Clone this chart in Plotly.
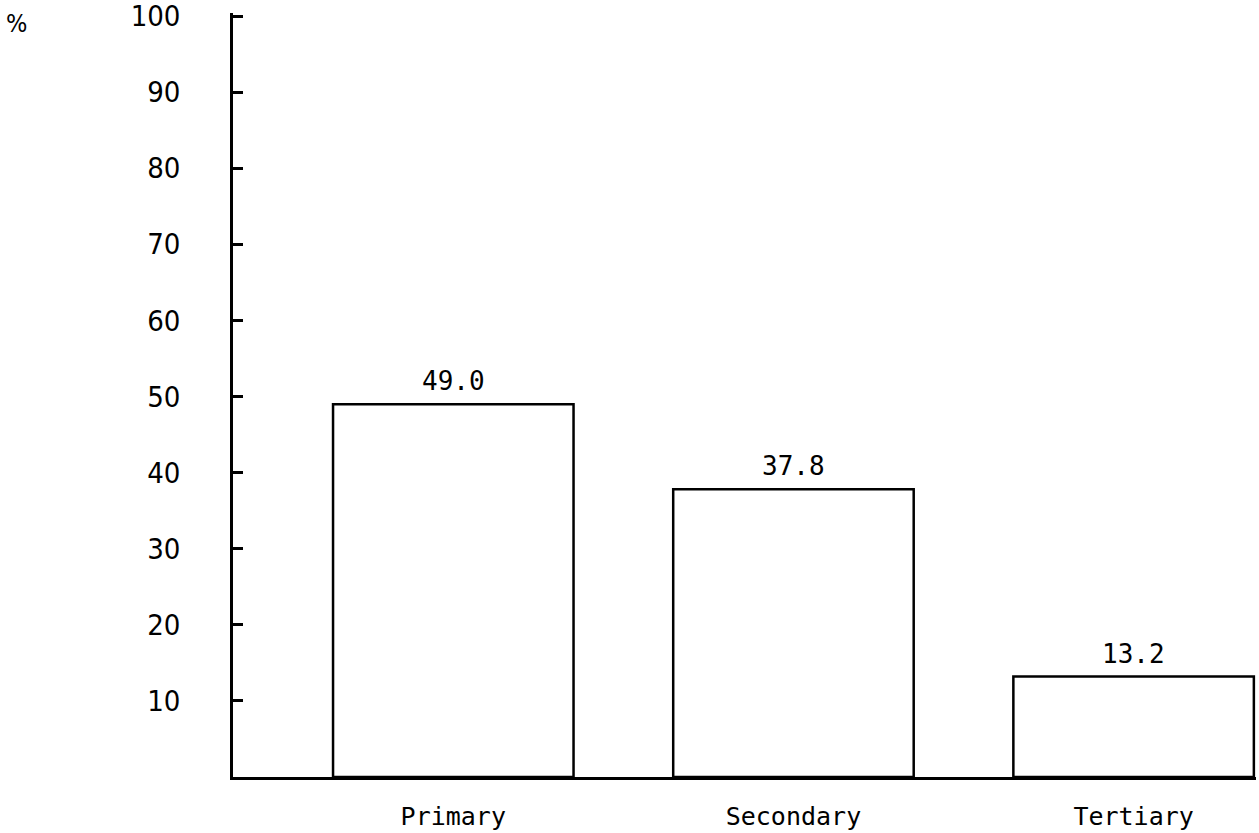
import plotly.graph_objects as go

categories = ["Primary", "Secondary", "Tertiary"]
values = [49.0, 37.8, 13.2]
value_labels = ["49.0", "37.8", "13.2"]
y_ticks = [10, 20, 30, 40, 50, 60, 70, 80, 90, 100]

MONO = "DejaVu Sans Mono, Liberation Mono, monospace"
NARROW = "Liberation Sans Narrow, Arial Narrow, DejaVu Sans Condensed, sans-serif"

fig = go.Figure()
fig.add_trace(go.Bar(
    x=categories, y=values, width=0.707,
    marker=dict(color="white", line=dict(color="black", width=2.5)),
    showlegend=False, hoverinfo="skip",
))

for c, v, t in zip(categories, values, value_labels):
    fig.add_annotation(x=c, y=v, text=t, showarrow=False, xref="x", yref="y",
                       yanchor="bottom", yshift=6,
                       font=dict(family=MONO, size=26, color="black"))

fig.add_annotation(x=-0.224, y=1.008, xref="paper", yref="paper", text="%",
                   showarrow=False, xanchor="left", yanchor="top",
                   font=dict(family=NARROW, size=25, color="black"))

fig.update_layout(
    width=1259, height=833,
    margin=dict(l=233, r=3, t=13, b=56, autoexpand=False),
    plot_bgcolor="white", paper_bgcolor="white",
    bargap=0.3,
)
fig.update_xaxes(
    type="category", range=[-0.6476, 2.3598], automargin=False,
    showline=True, linecolor="black", linewidth=2.5,
    showgrid=False, zeroline=False, ticks="",
    tickfont=dict(family=MONO, size=25, color="black"),
    ticklabelstandoff=15,
)
fig.update_yaxes(
    range=[0, 100.4], tickvals=y_ticks, ticktext=[str(v) for v in y_ticks],
    automargin=False, ticklabeloverflow="allow",
    showline=True, linecolor="black", linewidth=2.5,
    ticks="inside", ticklen=10, tickwidth=2.5, tickcolor="black",
    showgrid=False, zeroline=False,
    tickfont=dict(family=NARROW, size=29, color="black"),
    ticklabelstandoff=44,
)

# remove the browser's default 8px body margin so the figure fills the window
fig.write_html("out.html", config={"displayModeBar": False},
               post_script="document.body.style.margin='0';")
